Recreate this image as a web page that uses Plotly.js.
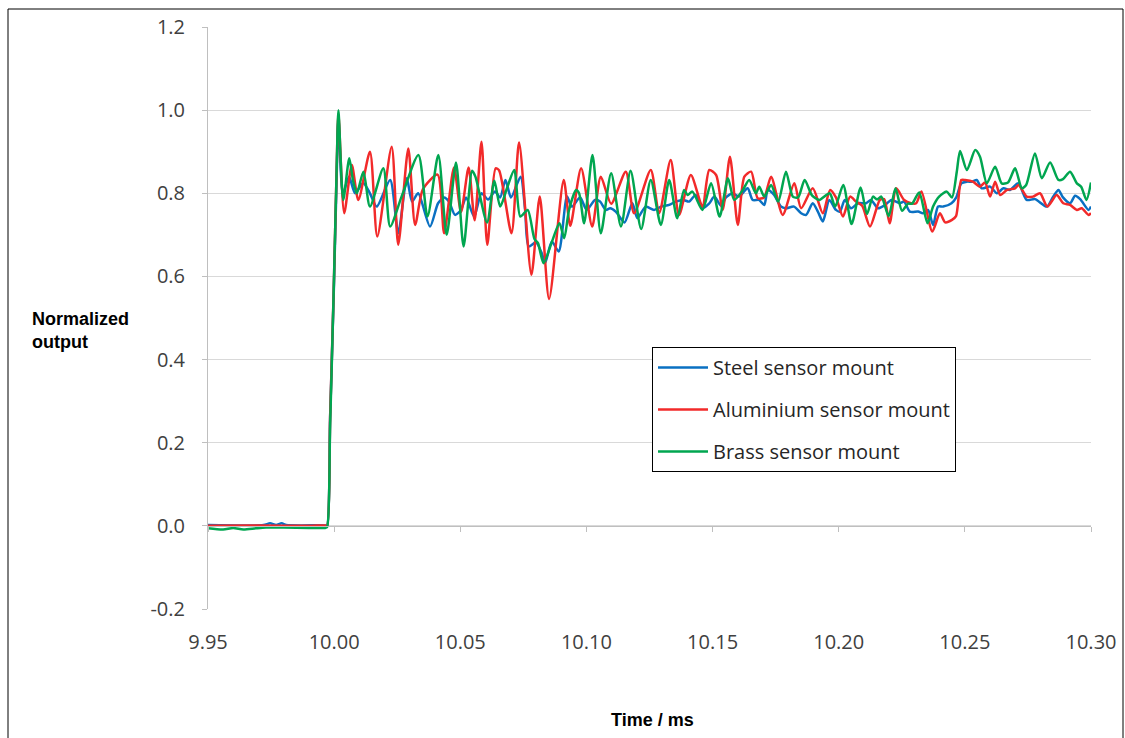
<!DOCTYPE html>
<html>
<head>
<meta charset="utf-8">
<script src="https://cdn.plot.ly/plotly-3.0.1.min.js"></script>
<style>
html,body{margin:0;padding:0;background:#fff;}
#chart{width:1125px;height:738px;}
</style>
</head>
<body>
<div id="chart"></div>
<script>
// ---- data (time in ms, normalized output) ----
const seriesNames = ["Steel sensor mount", "Aluminium sensor mount", "Brass sensor mount"];
const xTickVals = [9.95, 10.00, 10.05, 10.10, 10.15, 10.20, 10.25, 10.30];
const xTickLabels = ["9.95", "10.00", "10.05", "10.10", "10.15", "10.20", "10.25", "10.30"];
const yTickVals = [-0.2, 0.0, 0.2, 0.4, 0.6, 0.8, 1.0, 1.2];
const yTickLabels = ["-0.2", "0.0", "0.2", "0.4", "0.6", "0.8", "1.0", "1.2"];

const steelT = [
  9.9500, 9.9720, 9.9746, 9.9770, 9.9792, 9.9810, 9.9965, 9.9972, 9.9984, 9.9998,
  10.0010, 10.0017, 10.0035, 10.0059, 10.0083, 10.0115, 10.0142, 10.0169, 10.0222, 10.0254,
  10.0288, 10.0309, 10.0333, 10.0380, 10.0412, 10.0436, 10.0455, 10.0479, 10.0503, 10.0523,
  10.0555, 10.0584, 10.0610, 10.0638, 10.0658, 10.0679, 10.0701, 10.0739, 10.0757, 10.0771,
  10.0800, 10.0823, 10.0836, 10.0863, 10.0890, 10.0923, 10.0942, 10.0975, 10.1001, 10.1034,
  10.1054, 10.1077, 10.1094, 10.1116, 10.1151, 10.1182, 10.1202, 10.1235, 10.1268, 10.1296,
  10.1328, 10.1354, 10.1384, 10.1407, 10.1433, 10.1460, 10.1486, 10.1507, 10.1534, 10.1553,
  10.1580, 10.1605, 10.1639, 10.1659, 10.1684, 10.1705, 10.1719, 10.1744, 10.1771, 10.1791,
  10.1823, 10.1851, 10.1871, 10.1897, 10.1918, 10.1937, 10.1963, 10.1989, 10.2005, 10.2024,
  10.2049, 10.2077, 10.2108, 10.2128, 10.2156, 10.2184, 10.2209, 10.2242, 10.2259, 10.2282,
  10.2315, 10.2334, 10.2354, 10.2374, 10.2394, 10.2414, 10.2447, 10.2466, 10.2486, 10.2508,
  10.2529, 10.2547, 10.2567, 10.2600, 10.2627, 10.2653, 10.2679, 10.2712, 10.2745, 10.2778,
  10.2825, 10.2850, 10.2871, 10.2889, 10.2917, 10.2937, 10.2957, 10.2990, 10.3000
];
const steelV = [
  0.002, 0.002, 0.006, 0.002, 0.006, 0.002, 0.001, 0.000, 0.260, 0.550,
  0.840, 0.980, 0.800, 0.840, 0.800, 0.825, 0.800, 0.768, 0.832, 0.704,
  0.836, 0.780, 0.800, 0.720, 0.776, 0.790, 0.780, 0.748, 0.760, 0.790,
  0.744, 0.800, 0.785, 0.804, 0.790, 0.832, 0.790, 0.840, 0.760, 0.672,
  0.682, 0.656, 0.632, 0.684, 0.660, 0.792, 0.768, 0.790, 0.760, 0.784,
  0.780, 0.760, 0.764, 0.756, 0.730, 0.776, 0.740, 0.768, 0.760, 0.768,
  0.772, 0.780, 0.784, 0.780, 0.796, 0.764, 0.775, 0.792, 0.770, 0.790,
  0.800, 0.792, 0.812, 0.784, 0.784, 0.772, 0.808, 0.796, 0.768, 0.764,
  0.768, 0.752, 0.748, 0.776, 0.755, 0.732, 0.784, 0.760, 0.756, 0.784,
  0.764, 0.776, 0.776, 0.784, 0.764, 0.772, 0.784, 0.776, 0.780, 0.756,
  0.756, 0.752, 0.760, 0.724, 0.768, 0.768, 0.776, 0.790, 0.824, 0.828,
  0.828, 0.832, 0.812, 0.816, 0.800, 0.812, 0.808, 0.824, 0.784, 0.786,
  0.768, 0.792, 0.808, 0.790, 0.776, 0.794, 0.786, 0.760, 0.768
];

const aluT = [
  9.9500, 9.9700, 9.9900, 9.9965, 9.9972, 9.9984, 9.9998, 10.0010, 10.0017, 10.0040,
  10.0070, 10.0096, 10.0142, 10.0171, 10.0228, 10.0254, 10.0294, 10.0321, 10.0352, 10.0410,
  10.0436, 10.0475, 10.0503, 10.0533, 10.0557, 10.0584, 10.0607, 10.0640, 10.0654, 10.0703,
  10.0733, 10.0782, 10.0815, 10.0852, 10.0910, 10.0936, 10.0979, 10.1023, 10.1057, 10.1098,
  10.1156, 10.1189, 10.1255, 10.1288, 10.1334, 10.1367, 10.1414, 10.1460, 10.1487, 10.1514,
  10.1540, 10.1569, 10.1600, 10.1626, 10.1653, 10.1679, 10.1704, 10.1732, 10.1778, 10.1824,
  10.1851, 10.1897, 10.1937, 10.1966, 10.1989, 10.2017, 10.2045, 10.2069, 10.2093, 10.2124,
  10.2163, 10.2180, 10.2202, 10.2228, 10.2259, 10.2287, 10.2307, 10.2328, 10.2371, 10.2401,
  10.2422, 10.2449, 10.2465, 10.2486, 10.2501, 10.2532, 10.2560, 10.2580, 10.2600, 10.2620,
  10.2640, 10.2667, 10.2699, 10.2713, 10.2745, 10.2770, 10.2798, 10.2827, 10.2864, 10.2890,
  10.2917, 10.2944, 10.2963, 10.2990, 10.3000
];
const aluV = [
  0.000, 0.001, 0.000, 0.001, 0.000, 0.260, 0.560, 0.860, 0.990, 0.752,
  0.868, 0.784, 0.900, 0.696, 0.912, 0.676, 0.908, 0.724, 0.810, 0.845,
  0.704, 0.862, 0.755, 0.862, 0.735, 0.924, 0.676, 0.860, 0.855, 0.704,
  0.922, 0.604, 0.792, 0.546, 0.832, 0.722, 0.860, 0.720, 0.840, 0.775,
  0.852, 0.752, 0.856, 0.752, 0.880, 0.748, 0.844, 0.768, 0.856, 0.844,
  0.760, 0.888, 0.724, 0.840, 0.852, 0.788, 0.790, 0.840, 0.748, 0.824,
  0.764, 0.812, 0.752, 0.808, 0.790, 0.744, 0.792, 0.780, 0.770, 0.720,
  0.784, 0.786, 0.728, 0.812, 0.784, 0.776, 0.776, 0.804, 0.708, 0.752,
  0.730, 0.736, 0.745, 0.832, 0.832, 0.828, 0.816, 0.826, 0.792, 0.828,
  0.796, 0.808, 0.812, 0.820, 0.792, 0.792, 0.800, 0.768, 0.796, 0.776,
  0.772, 0.760, 0.764, 0.748, 0.752
];

const brassT = [
  9.9500, 9.9560, 9.9600, 9.9640, 9.9690, 9.9730, 9.9800, 9.9900, 9.9965, 9.9972,
  9.9984, 9.9998, 10.0010, 10.0017, 10.0036, 10.0060, 10.0075, 10.0090, 10.0116, 10.0142,
  10.0195, 10.0222, 10.0269, 10.0334, 10.0370, 10.0413, 10.0446, 10.0483, 10.0513, 10.0547,
  10.0560, 10.0606, 10.0635, 10.0658, 10.0685, 10.0714, 10.0738, 10.0767, 10.0794, 10.0808,
  10.0830, 10.0866, 10.0893, 10.0912, 10.0931, 10.0959, 10.0971, 10.0991, 10.1024, 10.1057,
  10.1098, 10.1137, 10.1175, 10.1217, 10.1255, 10.1295, 10.1328, 10.1360, 10.1387, 10.1401,
  10.1420, 10.1460, 10.1494, 10.1528, 10.1561, 10.1586, 10.1620, 10.1645, 10.1672, 10.1685,
  10.1705, 10.1732, 10.1760, 10.1791, 10.1818, 10.1839, 10.1865, 10.1894, 10.1923, 10.1964,
  10.1986, 10.2018, 10.2051, 10.2087, 10.2112, 10.2136, 10.2152, 10.2169, 10.2198, 10.2225,
  10.2251, 10.2275, 10.2291, 10.2319, 10.2352, 10.2374, 10.2398, 10.2428, 10.2449, 10.2468,
  10.2481, 10.2508, 10.2541, 10.2560, 10.2587, 10.2620, 10.2646, 10.2671, 10.2699, 10.2726,
  10.2743, 10.2778, 10.2805, 10.2838, 10.2871, 10.2889, 10.2917, 10.2944, 10.2961, 10.2982,
  10.3000
];
const brassV = [
  -0.006, -0.009, -0.005, -0.009, -0.006, -0.004, -0.004, -0.005, -0.005, -0.003,
  0.240, 0.560, 0.860, 1.000, 0.784, 0.884, 0.830, 0.800, 0.852, 0.768,
  0.860, 0.720, 0.795, 0.892, 0.744, 0.892, 0.700, 0.874, 0.672, 0.854,
  0.840, 0.730, 0.830, 0.768, 0.812, 0.856, 0.744, 0.760, 0.690, 0.680,
  0.632, 0.688, 0.728, 0.692, 0.760, 0.808, 0.800, 0.728, 0.892, 0.704,
  0.848, 0.720, 0.854, 0.714, 0.832, 0.724, 0.832, 0.740, 0.808, 0.796,
  0.804, 0.760, 0.824, 0.744, 0.836, 0.784, 0.808, 0.832, 0.800, 0.816,
  0.792, 0.820, 0.780, 0.852, 0.792, 0.790, 0.832, 0.795, 0.784, 0.800,
  0.768, 0.820, 0.726, 0.814, 0.750, 0.792, 0.785, 0.792, 0.745, 0.812,
  0.758, 0.775, 0.775, 0.802, 0.728, 0.768, 0.792, 0.804, 0.790, 0.852,
  0.902, 0.856, 0.904, 0.888, 0.824, 0.864, 0.824, 0.826, 0.860, 0.812,
  0.820, 0.896, 0.836, 0.874, 0.832, 0.834, 0.852, 0.824, 0.816, 0.784,
  0.826
];

const colors = ["#0a70c2", "#f22a2a", "#00a650"];

// ---- traces ----
const xs = [steelT, aluT, brassT];
const ys = [steelV, aluV, brassV];
const traces = xs.map((x, i) => ({
  type: "scatter",
  mode: "lines",
  x: x,
  y: ys[i],
  name: seriesNames[i],
  legendgroup: "g" + i,
  line: {color: colors[i], width: 2.5, shape: "spline", smoothing: 0.7},
  hoverinfo: "skip"
}));

// ---- layout ----
const L = 208, R = 34, T = 27, B = 129;
const W = 1125, H = 738;
const pw = W - L - R, ph = H - T - B;
const yMin = -0.2, yMax = 1.2;
const tickFont = {size: 20, color: "#404040", family: "Open Sans, sans-serif"};

const layout = {
  width: W, height: H,
  margin: {l: L, r: R, t: T, b: B, pad: 0},
  paper_bgcolor: "#ffffff",
  plot_bgcolor: "#ffffff",
  showlegend: true,
  font: {family: "Open Sans, Liberation Sans, sans-serif", color: "#404040"},
  xaxis: {
    range: [9.95, 10.30],
    tickvals: xTickVals,
    ticktext: xTickLabels,
    anchor: "free",
    position: (0 - yMin) / (yMax - yMin),
    showline: true,
    linecolor: "#bfbfbf",
    linewidth: 1,
    ticks: "outside",
    ticklen: 5,
    tickcolor: "#bfbfbf",
    tickwidth: 1,
    ticklabelstandoff: 93,
    showgrid: false,
    zeroline: false,
    tickfont: tickFont,
    fixedrange: true
  },
  yaxis: {
    range: [yMin, yMax],
    tickvals: yTickVals,
    ticktext: yTickLabels,
    showline: true,
    linecolor: "#bfbfbf",
    linewidth: 1,
    ticks: "outside",
    ticklen: 5,
    tickcolor: "#bfbfbf",
    ticklabelstandoff: 13,
    showgrid: true,
    gridcolor: "#d9d9d9",
    gridwidth: 1,
    zeroline: false,
    tickfont: tickFont,
    fixedrange: true
  },
  legend: {
    x: (652 - L) / pw,
    y: (H - B - 347) / ph,
    xanchor: "left",
    yanchor: "top",
    bgcolor: "#ffffff",
    bordercolor: "#000000",
    borderwidth: 1,
    font: {size: 20, color: "#262626", family: "Open Sans, sans-serif"},
    itemwidth: 50,
    traceorder: "grouped",
    tracegroupgap: 13
  },
  annotations: [
    {
      text: "<b>Normalized<br>output</b>",
      xref: "paper", yref: "paper",
      x: (30 - L) / pw, y: (H - B - 331) / ph,
      xanchor: "left", yanchor: "middle",
      align: "left", showarrow: false,
      font: {size: 18, color: "#000000", family: "Liberation Sans, Arial, sans-serif"}
    },
    {
      text: "<b>Time / ms</b>",
      xref: "paper", yref: "paper",
      x: (652 - L) / pw, y: (H - B - 720) / ph,
      xanchor: "center", yanchor: "middle",
      showarrow: false,
      font: {size: 18, color: "#000000", family: "Liberation Sans, Arial, sans-serif"}
    }
  ],
  shapes: [
    {
      type: "rect", xref: "paper", yref: "paper",
      x0: (8 - L) / pw, x1: (1123 - L) / pw,
      y0: (H - B - 745) / ph, y1: (H - B - 9) / ph,
      line: {color: "#000000", width: 1},
      fillcolor: "rgba(0,0,0,0)",
      layer: "below"
    }
  ]
};

Plotly.newPlot("chart", traces, layout, {staticPlot: true, displayModeBar: false});
</script>
</body>
</html>
